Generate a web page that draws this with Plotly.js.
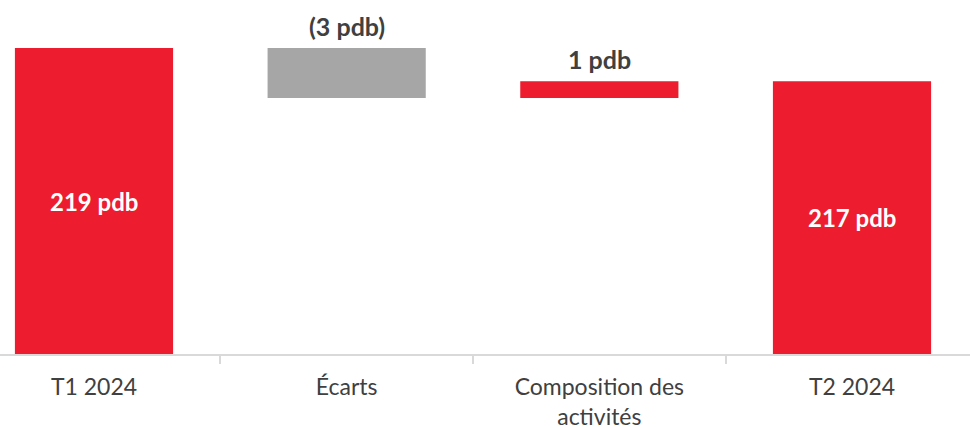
<!DOCTYPE html>
<html>
<head>
<meta charset="utf-8">
<script src="https://cdn.plot.ly/plotly-3.0.1.min.js"></script>
<style>html,body{margin:0;padding:0;background:#fff;}#chart{width:970px;height:428px;}</style>
</head>
<body>
<div id="chart"></div>
<script>
// Data
const categories = ["T1 2024", "Écarts", "Composition des<br>activités", "T2 2024"];
const measures = ["absolute", "relative", "relative", "total"];
const values = [219, -3, 1, 217];
const labels = ["219 pdb", "(3 pdb)", "1 pdb", "217 pdb"];

const RED = "#ED1C2E";
const GREY = "#A6A6A6";
const TEXT = "#404040";
const FONT = "Lato, 'Open Sans', sans-serif";
const Y_RANGE = [200.64, 221.88];

// running tops for labels
const tops = [];
let run = 0;
for (let i = 0; i < values.length; i++) {
  if (measures[i] === "absolute") { run = values[i]; tops.push(run); }
  else if (measures[i] === "relative") { const prev = run; run += values[i]; tops.push(Math.max(prev, run)); }
  else { tops.push(run); }
}

const trace = {
  type: "waterfall",
  x: categories,
  y: values,
  measure: measures,
  increasing: {marker: {color: RED}},
  decreasing: {marker: {color: GREY}},
  totals: {marker: {color: RED}},
  connector: {visible: false},
  hoverinfo: "none"
};

const annotations = labels.map((t, i) => {
  if (measures[i] === "relative") {
    return {
      x: categories[i], y: tops[i], xref: "x", yref: "y",
      text: "<b>" + t + "</b>", showarrow: false,
      yanchor: "bottom", yshift: 5,
      font: {family: FONT, size: 25, color: TEXT}
    };
  }
  return {
    x: categories[i], y: (Math.max(Y_RANGE[0], 0) + tops[i]) / 2, xref: "x", yref: "y",
    text: "<b>" + t + "</b>", showarrow: false,
    yanchor: "middle",
    font: {family: FONT, size: 24, color: "#ffffff"}
  };
});

const layout = {
  width: 970, height: 428,
  margin: {l: 0, r: 0, t: 0, b: 74},
  paper_bgcolor: "#ffffff", plot_bgcolor: "#ffffff",
  showlegend: false,
  waterfallgap: 0.374,
  xaxis: {
    type: "category",
    range: [-0.372, 3.467],
    tickson: "boundaries",
    ticks: "outside", ticklen: 8, tickwidth: 2, tickcolor: "#D9D9D9",
    showline: true, linecolor: "#D9D9D9", linewidth: 2,
    showgrid: false, zeroline: false,
    ticklabelstandoff: 11,
    tickfont: {family: FONT, size: 23, color: TEXT}
  },
  yaxis: {
    visible: false,
    range: Y_RANGE,
    showgrid: false, zeroline: false
  },
  annotations: annotations
};

Plotly.newPlot("chart", [trace], layout, {displayModeBar: false, staticPlot: true});
</script>
</body>
</html>
